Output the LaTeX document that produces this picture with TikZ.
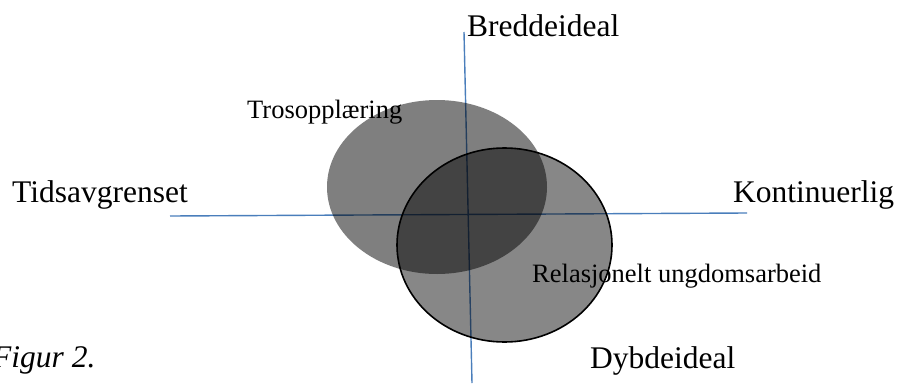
\documentclass[tikz,border=0pt]{standalone}
\usepackage{fontspec}
\setmainfont{Liberation Serif}
\begin{document}
\begin{tikzpicture}[x=1pt,y=-1pt,
  axis/.style={draw={rgb,255:red,74;green,126;blue,187}, line width=1.4pt},
  big/.style={inner sep=0pt, anchor=base west, font=\fontsize{31.5}{36}\selectfont},
  small/.style={inner sep=0pt, anchor=base west, font=\fontsize{26.5}{30}\selectfont}]
\useasboundingbox (0,0) rectangle (899,383);
% axes
\coordinate (left) at (170,216);
\coordinate (right) at (747,213);
\coordinate (top) at (464,32);
\coordinate (bottom) at (472,383);
\draw[axis] (left) -- (right);
\draw[axis] (top) -- (bottom);
% ellipses
\fill[black, fill opacity=0.5] (437,187) ellipse [x radius=110, y radius=87];
\draw[black, line width=1.6pt, fill=black, fill opacity=0.47] (504.5,245) ellipse [x radius=107.5, y radius=97];
% labels
\node[big] (bredde) at (467,36) {Breddeideal};
\node[big] (dybde) at (590,368) {Dybdeideal};
\node[big] (tids) at (12,202) {Tidsavgrenset};
\node[big] (kont) at (733,202) {Kontinuerlig};
\node[big, font=\fontsize{31.5}{36}\selectfont\itshape] (figur) at (-8,367) {Figur 2.};
\node[small] (tros) at (247,118) {Trosopplæring};
\node[small] (rel) at (532,282) {Relasjonelt ungdomsarbeid};
\end{tikzpicture}
\end{document}
